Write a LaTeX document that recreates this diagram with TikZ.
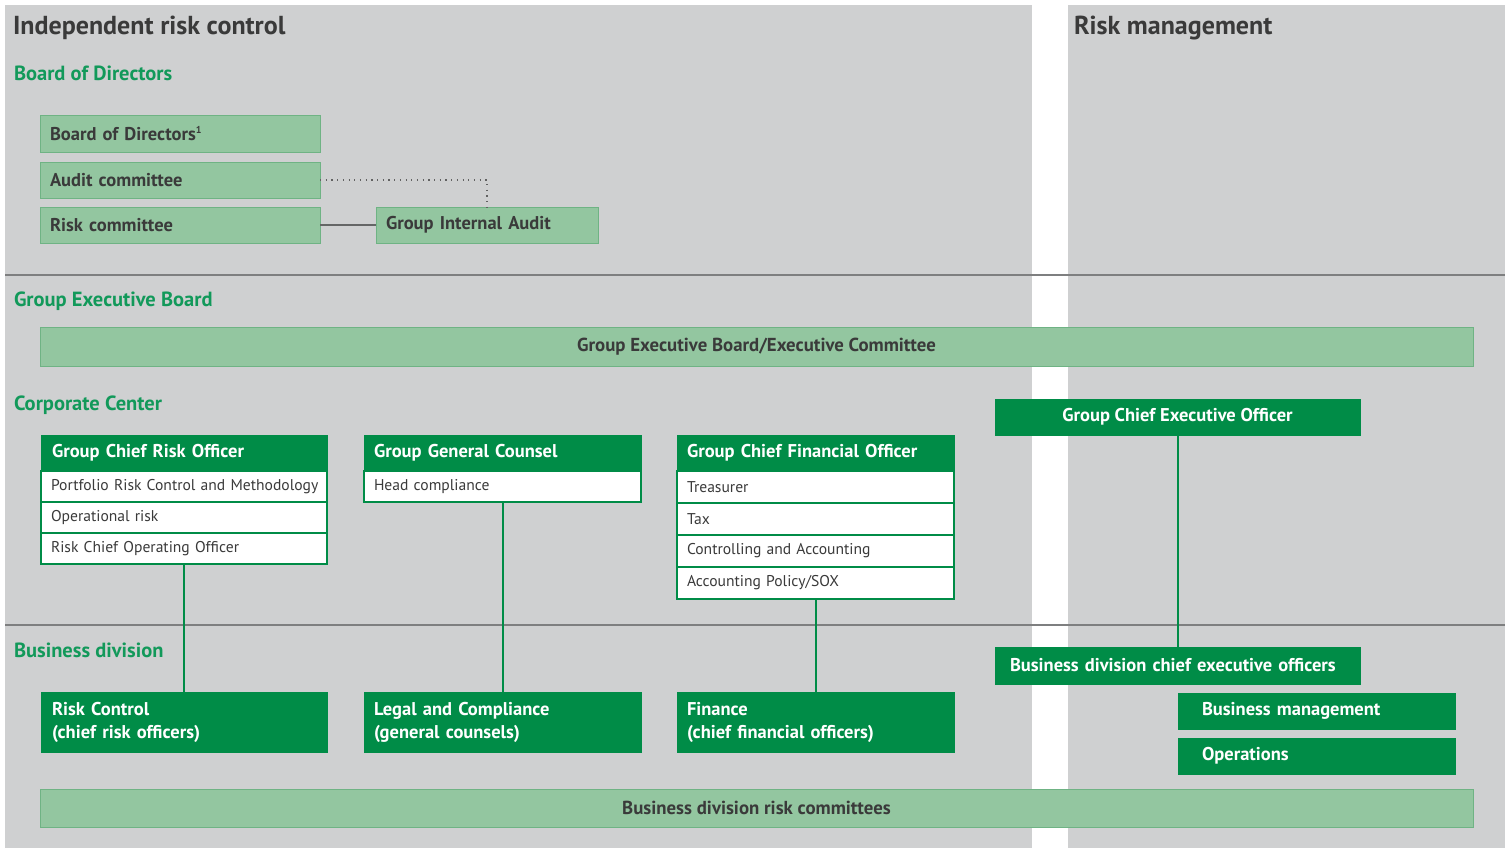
\documentclass[tikz,border=0pt]{standalone}
\usepackage{fontspec}
\setmainfont{PT Sans}
\definecolor{bggray}{HTML}{CFD0D1}
\definecolor{lgreen}{HTML}{93C6A0}
\definecolor{lgborder}{HTML}{6FB384}
\definecolor{dkgreen}{HTML}{008C47}
\definecolor{ttlgreen}{HTML}{12995A}
\definecolor{txtgray}{HTML}{3A3A3A}
\definecolor{rulegray}{HTML}{7E7F80}
\begin{document}
\begin{tikzpicture}[x=1pt,y=-1pt,
  every node/.style={inner sep=0pt, outer sep=0pt},
  lbox/.style={fill=lgreen, draw=lgborder, line width=0.8pt, anchor=north west,
     text=txtgray, font=\fontsize{18.5}{22}\selectfont\bfseries, align=left},
  bar/.style={fill=lgreen, draw=lgborder, line width=1pt, anchor=north west,
     text=txtgray, font=\fontsize{18.8}{22}\selectfont\bfseries, align=center},
  dbox/.style={fill=dkgreen, draw=dkgreen, line width=1pt, anchor=north west,
     text=white, font=\fontsize{18.5}{23}\selectfont\bfseries, align=left},
  rowbox/.style={fill=white, draw=dkgreen, line width=2pt, anchor=north west,
     text=txtgray, font=\fontsize{15.6}{18}\selectfont, align=left},
  sect/.style={anchor=west, text=ttlgreen, font=\fontsize{20.5}{24}\selectfont\bfseries},
  head/.style={anchor=west, text=txtgray, font=\fontsize{26}{30}\selectfont\bfseries},
  gline/.style={draw=dkgreen, line width=2pt},
  kline/.style={draw=rulegray!80!black, line width=1.5pt},
  dotline/.style={draw=txtgray!80, line width=1.2pt, dash pattern=on 1.2pt off 4.5pt},
  rule/.style={draw=rulegray, line width=1.5pt}
]
\useasboundingbox (0,0) rectangle (1510,848);
\fill[white] (0,0) rectangle (1510,848);
\fill[bggray] (5,5) rectangle (1032,848);
\fill[bggray] (1068,5) rectangle (1505,848);
\draw[rule] (5,275) -- (1505,275);
\draw[rule] (5,625) -- (1505,625);

% headings
\node[head] (h1) at (13,28) {Independent risk control};
\node[head] (h2) at (1074,28) {Risk management};
\node[sect] (s1) at (14,73) {Board of Directors};
\node[sect] (s2) at (14,301) {Group Executive Board};
\node[sect] (s3) at (14,405) {Corporate Center};
\node[sect] (s4) at (14,650) {Business division};

% board of directors
\node[lbox, minimum width=280, minimum height=37, text width=280] (bod) at (40,115) {\hspace*{10pt}Board of Directors\textsuperscript{\fontsize{10}{11}\selectfont 1}};
\node[lbox, minimum width=280, minimum height=36, text width=280] (ac) at (40,162) {\hspace*{10pt}Audit committee};
\node[lbox, minimum width=280, minimum height=36, text width=280] (rcm) at (40,207) {\hspace*{10pt}Risk committee};
\node[lbox, minimum width=222, minimum height=36, text width=222] (gia) at (376,207) {\hspace*{10pt}Group Internal Audit};
\draw[kline] (rcm.east) -- (gia.west);
\draw[dotline] (ac.east) -| (gia.north);

% group executive board
\node[bar, minimum width=1433, minimum height=39] (geb) at (40,327) {Group Executive Board/Executive Committee};

% corporate center
\node[dbox, minimum width=286, minimum height=36, text width=286] (gcro) at (41,435) {\hspace*{11pt}Group Chief Risk Officer};
\node[rowbox, minimum width=286, minimum height=31, text width=286] (gcro1) at (41,471) {\hspace*{10pt}Portfolio Risk Control and Methodology};
\node[rowbox, minimum width=286, minimum height=31, text width=286] (gcro2) at (41,502) {\hspace*{10pt}Operational risk};
\node[rowbox, minimum width=286, minimum height=31, text width=286] (gcro3) at (41,533) {\hspace*{10pt}Risk Chief Operating Officer};

\node[dbox, minimum width=277, minimum height=36, text width=277] (ggc) at (364,435) {\hspace*{10pt}Group General Counsel};
\node[rowbox, minimum width=277, minimum height=31, text width=277] (ggc1) at (364,471) {\hspace*{10pt}Head compliance};

\node[dbox, minimum width=277, minimum height=36, text width=277] (gcfo) at (677,435) {\hspace*{10pt}Group Chief Financial Officer};
\node[rowbox, minimum width=277, minimum height=32, text width=277] (gcfo1) at (677,471) {\hspace*{10pt}Treasurer};
\node[rowbox, minimum width=277, minimum height=32, text width=277] (gcfo2) at (677,503) {\hspace*{10pt}Tax};
\node[rowbox, minimum width=277, minimum height=32, text width=277] (gcfo3) at (677,535) {\hspace*{10pt}Controlling and Accounting};
\node[rowbox, minimum width=277, minimum height=32, text width=277] (gcfo4) at (677,567) {\hspace*{10pt}Accounting Policy/SOX};

\node[dbox, minimum width=365, minimum height=36, align=center] (gceo) at (995,399) {Group Chief Executive Officer};

% business division
\node[dbox, minimum width=286, minimum height=60, text width=286] (rc) at (41,692) {\hspace*{11pt}Risk Control\\\hspace*{11pt}(chief risk officers)};
\node[dbox, minimum width=277, minimum height=60, text width=277] (lc) at (364,692) {\hspace*{10pt}Legal and Compliance\\\hspace*{10pt}(general counsels)};
\node[dbox, minimum width=277, minimum height=60, text width=277] (fin) at (677,692) {\hspace*{10pt}Finance\\\hspace*{10pt}(chief financial officers)};

\node[dbox, minimum width=365, minimum height=37, text width=365] (bdceo) at (995,647) {\hspace*{15pt}Business division chief executive officers};
\node[dbox, minimum width=277, minimum height=36, text width=277] (bm) at (1178,693) {\hspace*{24pt}Business management};
\node[dbox, minimum width=277, minimum height=36, text width=277] (ops) at (1178,738) {\hspace*{24pt}Operations};

\node[bar, minimum width=1433, minimum height=38] (bdrc) at (40,789) {Business division risk committees};

% connectors
\draw[gline] (gcro3.south) -- (rc.north);
\draw[gline] (ggc1.south) -- (lc.north);
\draw[gline] (gcfo4.south) -- (fin.north);
\draw[gline] (gceo.south) -- (bdceo.north);
\end{tikzpicture}
\end{document}
